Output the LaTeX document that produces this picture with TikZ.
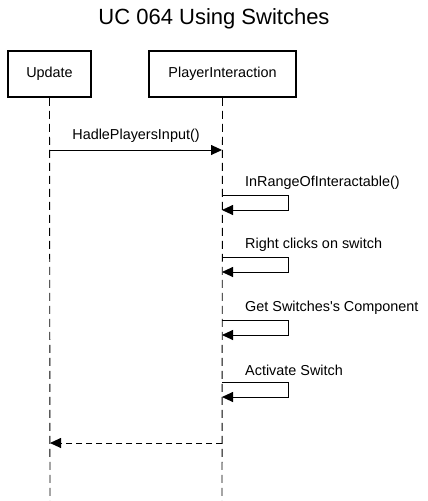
\documentclass[tikz,border=0pt]{standalone}
\usepackage{fontspec}
\setmainfont{Liberation Sans}
\usetikzlibrary{arrows.meta}
\begin{document}
\begin{tikzpicture}[x=1pt,y=-1pt,
  actor/.style={draw,line width=1.8pt,minimum height=46pt,inner sep=0pt,font=\fontsize{14.4}{16}\selectfont},
  lifeline/.style={line width=0.9pt,dash pattern=on 8pt off 5pt},
  msg/.style={line width=0.9pt,-{Triangle[length=11pt,width=10pt]}},
  ret/.style={line width=0.9pt,dash pattern=on 6pt off 4pt,-{Triangle[length=11pt,width=10pt]}},
  lbl/.style={font=\fontsize{14.4}{16}\selectfont,inner sep=0pt}]
\useasboundingbox (0,0) rectangle (428,501);
\node[font=\fontsize{22}{26}\selectfont,inner sep=0pt] (title) at (214,19) {UC 064 Using Switches};
\node[actor,minimum width=83pt] (upd) at (49.5,74) {Update};
\node[actor,minimum width=147pt] (pi) at (222.5,74) {PlayerInteraction};
\coordinate (updend) at (50,501);
\coordinate (piend) at (222,501);
\draw[lifeline] (upd.south) -- (updend);
\draw[lifeline] (pi.south) -- (piend);
% message 1
\coordinate (m1a) at (50,150);
\coordinate (m1b) at (222,150);
\draw[msg] (m1a) -- (m1b);
\node[lbl] (l1) at (136,136) {HadlePlayersInput()};
% self messages
\foreach \y/\t/\n in {195/{InRangeOfInteractable()}/s1,257/{Right clicks on switch}/s2,320/{Get Switches\textquotesingle s Component}/s3,382/{Activate Switch}/s4}{
  \coordinate (\n a) at (222,\y);
  \coordinate (\n b) at (288,\y);
  \coordinate (\n c) at (288,\y+15);
  \coordinate (\n d) at (222,\y+15);
  \draw[msg] (\n a) -- (\n b) -- (\n c) -- (\n d);
  \node[lbl,anchor=west] (\n l) at (245,\y-12) {\t};
}
% return
\coordinate (ra) at (222,443);
\coordinate (rb) at (50,443);
\draw[ret] (ra) -- (rb);
\end{tikzpicture}
\end{document}
